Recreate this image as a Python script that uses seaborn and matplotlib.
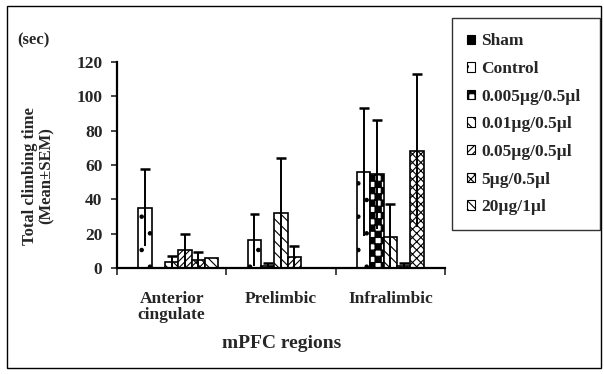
import matplotlib
matplotlib.use("Agg")
import matplotlib.pyplot as plt
import matplotlib.hatch as mhatch
from matplotlib.path import Path
import seaborn as sns
import pandas as pd
import numpy as np
from matplotlib.patches import Patch, Rectangle

# ---- data ----
categories = ["Anterior\ncingulate", "Prelimbic", "Infralimbic"]
groups = ["Sham", "Control", "0.005µg/0.5µl", "0.01µg/0.5µl",
          "0.05µg/0.5µl", "5µg/0.5µl", "20µg/1µl"]
sham_mean = [0, 0, 0]
control_mean = [35.3, 16.4, 56.0]
d0005_mean = [0, 1.5, 54.6]
d001_mean = [3.5, 31.9, 18.4]
d005_mean = [10.5, 6.5, 1.5]
d5_mean = [4.6, 0, 68.3]
d20_mean = [5.8, 0, 0]

sham_sem = [0, 0, 0]
control_sem = [22.5, 15.0, 37.0]
d0005_sem = [0, 1.8, 31.5]
d001_sem = [3.4, 32.3, 19.0]
d005_sem = [9.5, 6.3, 1.5]
d5_sem = [5.0, 0, 44.5]
d20_sem = [0, 0, 0]

means = [sham_mean, control_mean, d0005_mean, d001_mean, d005_mean, d5_mean, d20_mean]
sems = [sham_sem, control_sem, d0005_sem, d001_sem, d005_sem, d5_sem, d20_sem]

rows = []
for g, m, s in zip(groups, means, sems):
    for c, mv, sv in zip(categories, m, s):
        rows.append({"region": c, "group": g, "time": mv, "sem": sv})
df = pd.DataFrame(rows)


# ---- checkerboard hatch (uses the '*' character) ----
class Checker(mhatch.Shapes):
    size = 1.0
    filled = True

    def __init__(self, hatch, density):
        self.num_rows = 4 * hatch.count('*')
        verts, codes = [], []
        for m in (-2, -1, 0, 1):
            for n in (-2, -1, 0, 1):
                if (m + n) % 2 == 0:
                    x0, y0, a = m / 4, n / 4, 0.25
                    verts += [[x0, y0], [x0 + a, y0], [x0 + a, y0 + a], [x0, y0 + a], [x0, y0]]
                    codes += [Path.MOVETO, Path.LINETO, Path.LINETO, Path.LINETO, Path.CLOSEPOLY]
        self.shape_vertices = np.array(verts, dtype=float)
        self.shape_codes = np.array(codes, dtype=Path.code_type)
        super().__init__(hatch, density)


mhatch._hatch_types[:] = [t for t in mhatch._hatch_types if t is not mhatch.Stars] + [Checker]

# ---- style ----
sns.set_style("white")
plt.rcParams["font.family"] = ["Liberation Serif", "DejaVu Serif"]
plt.rcParams["font.weight"] = "bold"
plt.rcParams["hatch.linewidth"] = 0.8

W, H = 604, 374
fig = plt.figure(figsize=(W / 100, H / 100), dpi=100)
ax = fig.add_axes([117 / W, 1 - 268.3 / H, (445 - 117) / W, (268.3 - 61.7) / H])

styles = {
    "Sham": dict(fc="black", hatch=None),
    "Control": dict(fc="white", hatch="."),
    "0.005µg/0.5µl": dict(fc="white", hatch="*"),
    "0.01µg/0.5µl": dict(fc="white", hatch="\\\\\\"),
    "0.05µg/0.5µl": dict(fc="white", hatch="/////"),
    "5µg/0.5µl": dict(fc="white", hatch="xxxx"),
    "20µg/1µl": dict(fc="white", hatch="\\\\\\\\"),
}

sns.barplot(data=df, x="region", y="time", hue="group", order=categories,
            hue_order=groups, errorbar=None, width=0.85, ax=ax,
            palette=["white"] * len(groups), legend=False,
            edgecolor="black", linewidth=1.2)

for g, cont, s in zip(groups, ax.containers, sems):
    st = styles[g]
    for bar, sv in zip(cont.patches, s):
        bar.set_facecolor(st["fc"])
        bar.set_edgecolor("black")
        if st["hatch"]:
            bar.set_hatch(st["hatch"])
        h = bar.get_height()
        if sv > 0:
            xc = bar.get_x() + bar.get_width() / 2
            ax.vlines(xc, h - sv, h + sv, color="black", lw=1.4, zorder=5)
            ax.hlines(h + sv, xc - 0.045, xc + 0.045, color="black", lw=1.8, zorder=5)

ax.set_xlim(-0.5, 2.5)
ax.set_ylim(0, 120)
ax.set_yticks(np.arange(0, 121, 20))
ax.set_xlabel("")
ax.set_ylabel("")
for sp in ["top", "right"]:
    ax.spines[sp].set_visible(False)
for sp in ["left", "bottom"]:
    ax.spines[sp].set_linewidth(1.6)
    ax.spines[sp].set_color("black")
ax.tick_params(axis="y", which="major", direction="out", length=4.5, width=1.2,
               left=True, labelsize=12.5, pad=6)
ax.tick_params(axis="x", which="major", length=0, labelsize=12.5, pad=16)
ax.set_xticks([-0.5, 0.5, 1.5, 2.5], minor=True)
ax.tick_params(axis="x", which="minor", direction="out", length=5, width=1.2, bottom=True)
for lab in ax.get_xticklabels() + ax.get_yticklabels():
    lab.set_fontweight("bold")
for lab in ax.get_xticklabels():
    lab.set_linespacing(1.0)

fig.text(17 / W, 1 - 40 / H, "(sec)", fontsize=12, fontweight="bold", va="center", ha="left")
fig.text(38.5 / W, 1 - 176 / H, "Total climbing time\n(Mean±SEM)", rotation=90,
         fontsize=12, fontweight="bold", va="center", ha="center", multialignment="center",
         linespacing=1.05)
fig.text(281.5 / W, 1 - 344 / H, "mPFC regions", fontsize=14, fontweight="bold",
         ha="center", va="center")

handles = [Patch(facecolor=styles[g]["fc"], edgecolor="black",
                 hatch=styles[g]["hatch"], linewidth=0.8) for g in groups]
leg = fig.legend(handles, groups, loc="upper left",
                 bbox_to_anchor=(452 / W, 1 - 216.7 / H, 148 / W, 198.4 / H),
                 mode="expand",
                 frameon=True, fancybox=False, edgecolor="black",
                 prop={"family": "Liberation Serif", "weight": "bold", "size": 12.5},
                 handlelength=0.45, handleheight=0.45, handletextpad=0.35,
                 labelspacing=0.67, borderpad=0.87, borderaxespad=0)
leg.get_frame().set_linewidth(1.0)

fig.patches.append(Rectangle((7 / W, 6 / H), (601 - 7) / W, (368 - 6) / H,
                             transform=fig.transFigure, fill=False,
                             edgecolor="black", lw=1.0))

fig.savefig("out.png", dpi=100)
